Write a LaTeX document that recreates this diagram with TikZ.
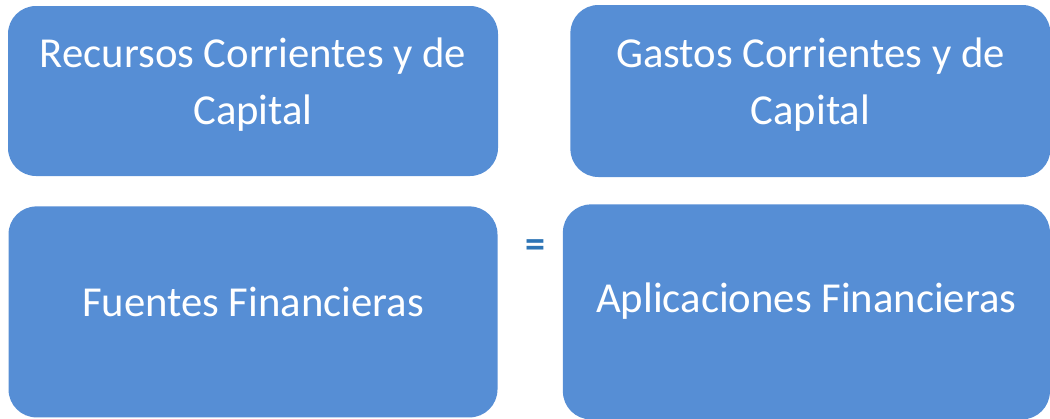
\documentclass[tikz,border=0pt]{standalone}
\usepackage{fontspec}
\setmainfont{Carlito}
\usetikzlibrary{positioning}

\definecolor{boxblue}{RGB}{86,142,213}
\definecolor{eqblue}{RGB}{46,117,182}

\begin{document}
\begin{tikzpicture}[x=1pt, y=-1pt,
    box/.style={rectangle, rounded corners=28pt, fill=boxblue, text=white,
        align=center, inner sep=0pt,
        font=\fontsize{42.7}{57}\selectfont}]

    \useasboundingbox (0,0) rectangle (1050,418);

    % -------------------------------------------------------------
    % top row
    % -------------------------------------------------------------
    \node[box, minimum width=490pt, minimum height=170pt, text depth=19pt] (recursos) at (253,91)
        {Recursos Corrientes y de\\Capital};
    \node[box, minimum width=480pt, minimum height=172pt, text depth=19pt] (gastos) [right=72pt of recursos]
        {Gastos Corrientes y de\\Capital};

    % -------------------------------------------------------------
    % bottom row
    % -------------------------------------------------------------
    \node[box, minimum width=489pt, minimum height=211pt, text depth=20pt] (fuentes) [below=30pt of recursos]
        {Fuentes Financieras};
    \node[box, minimum width=487pt, minimum height=215pt, text depth=29pt] (aplicaciones) [right=65pt of fuentes]
        {Aplicaciones Financieras};

    \node[text=eqblue, font=\fontsize{40}{48}\selectfont\bfseries] (igual) at (535,249) {=};

\end{tikzpicture}
\end{document}
